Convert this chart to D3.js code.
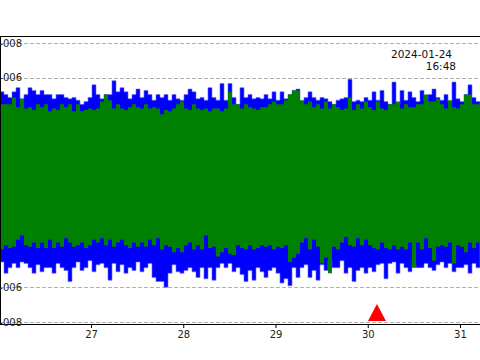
<!DOCTYPE html>
<html><head><meta charset="utf-8">
<script src="https://cdn.jsdelivr.net/npm/d3@7"></script>
<style>body{margin:0;background:#fff}svg{display:block}</style>
</head><body>
<svg id="c" width="480" height="360"></svg>
<script>
// envelope sampling of the traces (days of month)
const t0 = 26.0136, dt = 0.04336;
const blueMax = [65,63,61,65,68,60,63,68,66,63,66,63,63,60,63,63,61,60,61,59,56,58,61,70,63,60,63,63,73,65,68,65,60,63,67,61,66,63,59,63,
61,63,59,63,60,59,63,67,65,60,61,59,68,61,59,71,59,71,61,56,68,61,63,60,61,60,63,60,65,59,65,60,63,66,67,58,61,65,61,59,
61,60,58,56,59,60,61,74,58,59,58,61,59,65,59,66,58,56,72,56,66,59,65,61,58,66,58,63,67,61,59,63,58,72,60,58,63,70,61,58];
const blueMin = [-57,-65,-61,-58,-61,-57,-58,-61,-65,-59,-64,-61,-61,-65,-58,-61,-63,-71,-61,-57,-63,-61,-56,-64,-59,-58,-61,-70,-58,-64,-59,-65,-61,-63,-57,-64,-61,-58,-68,-71,
-71,-75,-65,-59,-64,-65,-63,-61,-64,-68,-61,-69,-61,-70,-61,-58,-61,-58,-64,-61,-66,-71,-63,-70,-61,-64,-68,-63,-61,-65,-72,-69,-74,-61,-68,-61,-59,-68,-63,-70,
-59,-63,-56,-61,-61,-56,-65,-61,-71,-63,-61,-65,-61,-64,-59,-58,-69,-58,-57,-65,-58,-61,-64,-59,-61,-61,-58,-61,-63,-59,-57,-61,-58,-64,-61,-61,-59,-65,-58,-61];
const greenMax = [56,56,56,61,54,60,53,54,52,56,54,56,51,53,52,56,54,56,51,56,51,52,53,52,53,58,63,59,53,56,53,52,54,56,54,53,56,53,54,53,
49,52,51,53,56,58,53,52,56,53,52,53,51,53,53,51,53,65,56,56,53,56,54,53,52,54,54,56,58,56,56,59,63,66,66,59,56,58,54,56,
53,58,53,56,54,52,53,61,52,56,53,58,54,52,58,53,52,56,56,58,53,56,54,54,56,56,63,58,58,60,56,53,59,54,53,56,63,63,56,56];
const greenMin = [-48,-45,-47,-46,-41,-38,-45,-46,-43,-47,-43,-47,-41,-47,-43,-46,-40,-43,-46,-45,-43,-47,-45,-41,-43,-40,-45,-41,-46,-43,-41,-45,-47,-43,-46,-43,-46,-41,-45,-40,
-48,-45,-46,-50,-47,-50,-45,-43,-48,-45,-48,-38,-47,-46,-53,-50,-47,-51,-52,-45,-47,-48,-45,-48,-47,-45,-46,-45,-48,-46,-47,-45,-57,-54,-51,-43,-40,-48,-41,-46,
-58,-54,-65,-46,-48,-43,-39,-45,-46,-40,-45,-41,-45,-47,-48,-43,-47,-48,-45,-48,-46,-48,-43,-61,-43,-48,-40,-47,-56,-46,-45,-46,-43,-58,-45,-46,-50,-43,-47,-43];
const xTicks = [27, 28, 29, 30, 31];
const yTicks = [100, 75, -75, -100];
const yTickLabels = ["1e-008", "1e-006", "-1e-006", "-1e-008"];
const eventTimes = [30.1];
const stampLines = ["2024-01-24", "16:48"];

const svg = d3.select("#c");
const W = 480, plotTop = 36, plotBottom = 324;
const x = d3.scaleLinear().domain([26.0136, 31.217]).range([0, W]);
const y = d3.scaleLinear().domain([-101.4, 105]).range([plotBottom, plotTop]);

svg.append("rect").attr("width", 480).attr("height", 360).attr("fill", "#fff");
svg.append("clipPath").attr("id", "clip").append("rect")
  .attr("x", 0).attr("y", plotTop).attr("width", W).attr("height", plotBottom - plotTop);

// grid
svg.append("g").selectAll("line").data(yTicks).join("line")
  .attr("x1", 0).attr("x2", W).attr("y1", d => Math.round(y(d)) + 0.5).attr("y2", d => Math.round(y(d)) + 0.5)
  .attr("stroke", "#b0b0b0").attr("stroke-width", 1).attr("stroke-dasharray", "4,2");

function pts(maxA, minA) {
  const p = maxA.map((v, i) => ({t: t0 + i * dt, hi: v, lo: minA[i]}));
  const last = p[p.length - 1];
  p.push({t: t0 + maxA.length * dt, hi: last.hi, lo: last.lo});
  return p;
}
const area = d3.area().curve(d3.curveStepAfter)
  .x(d => x(d.t)).y0(d => y(d.lo)).y1(d => y(d.hi));
const g = svg.append("g").attr("clip-path", "url(#clip)");
g.append("path").datum(pts(blueMax, blueMin)).attr("d", area).attr("fill", "#0000ff")
  .attr("stroke", "#6a6aff").attr("stroke-width", 0.6);
g.append("path").datum(pts(greenMax, greenMin)).attr("d", area).attr("fill", "#008000");

// event marker
g.selectAll("path.ev").data(eventTimes).join("path").attr("class", "ev")
  .attr("d", d => { const cx = x(d), by = y(-100) - 1; return `M${cx-9},${by}L${cx+9},${by}L${cx},${by-17}Z`; })
  .attr("fill", "#ff0000");

// frame
svg.append("line").attr("x1", 0).attr("x2", W).attr("y1", plotTop + 0.5).attr("y2", plotTop + 0.5).attr("stroke", "#000");
svg.append("line").attr("x1", 0.5).attr("x2", 0.5).attr("y1", plotTop).attr("y2", plotBottom).attr("stroke", "#000");

// x axis
const xa = svg.append("g").attr("transform", `translate(0,${plotBottom})`)
  .call(d3.axisBottom(x).tickValues(xTicks).tickSize(4).tickPadding(3).tickFormat(d3.format("d")));
xa.select(".domain").attr("d", `M0,0.5H${W}`).attr("stroke", "#000");
xa.selectAll("text").attr("font-family", "DejaVu Sans").attr("font-size", 10).attr("fill", "#222");
xa.selectAll(".tick line").attr("stroke", "#000");

// y labels
svg.append("g").selectAll("text").data(yTicks).join("text")
  .attr("x", 22).attr("y", d => y(d)).attr("dy", "0.36em").attr("text-anchor", "end")
  .attr("font-family", "DejaVu Sans").attr("font-size", 10).attr("fill", "#222")
  .text((d, i) => yTickLabels[i]);

// timestamp
svg.append("g").selectAll("text").data(stampLines).join("text")
  .attr("x", (d, i) => i === 0 ? 452 : 456).attr("y", (d, i) => 58 + i * 12)
  .attr("text-anchor", "end").attr("font-family", "DejaVu Sans").attr("font-size", 10.5).attr("fill", "#111")
  .text(d => d);
</script>
</body></html>
